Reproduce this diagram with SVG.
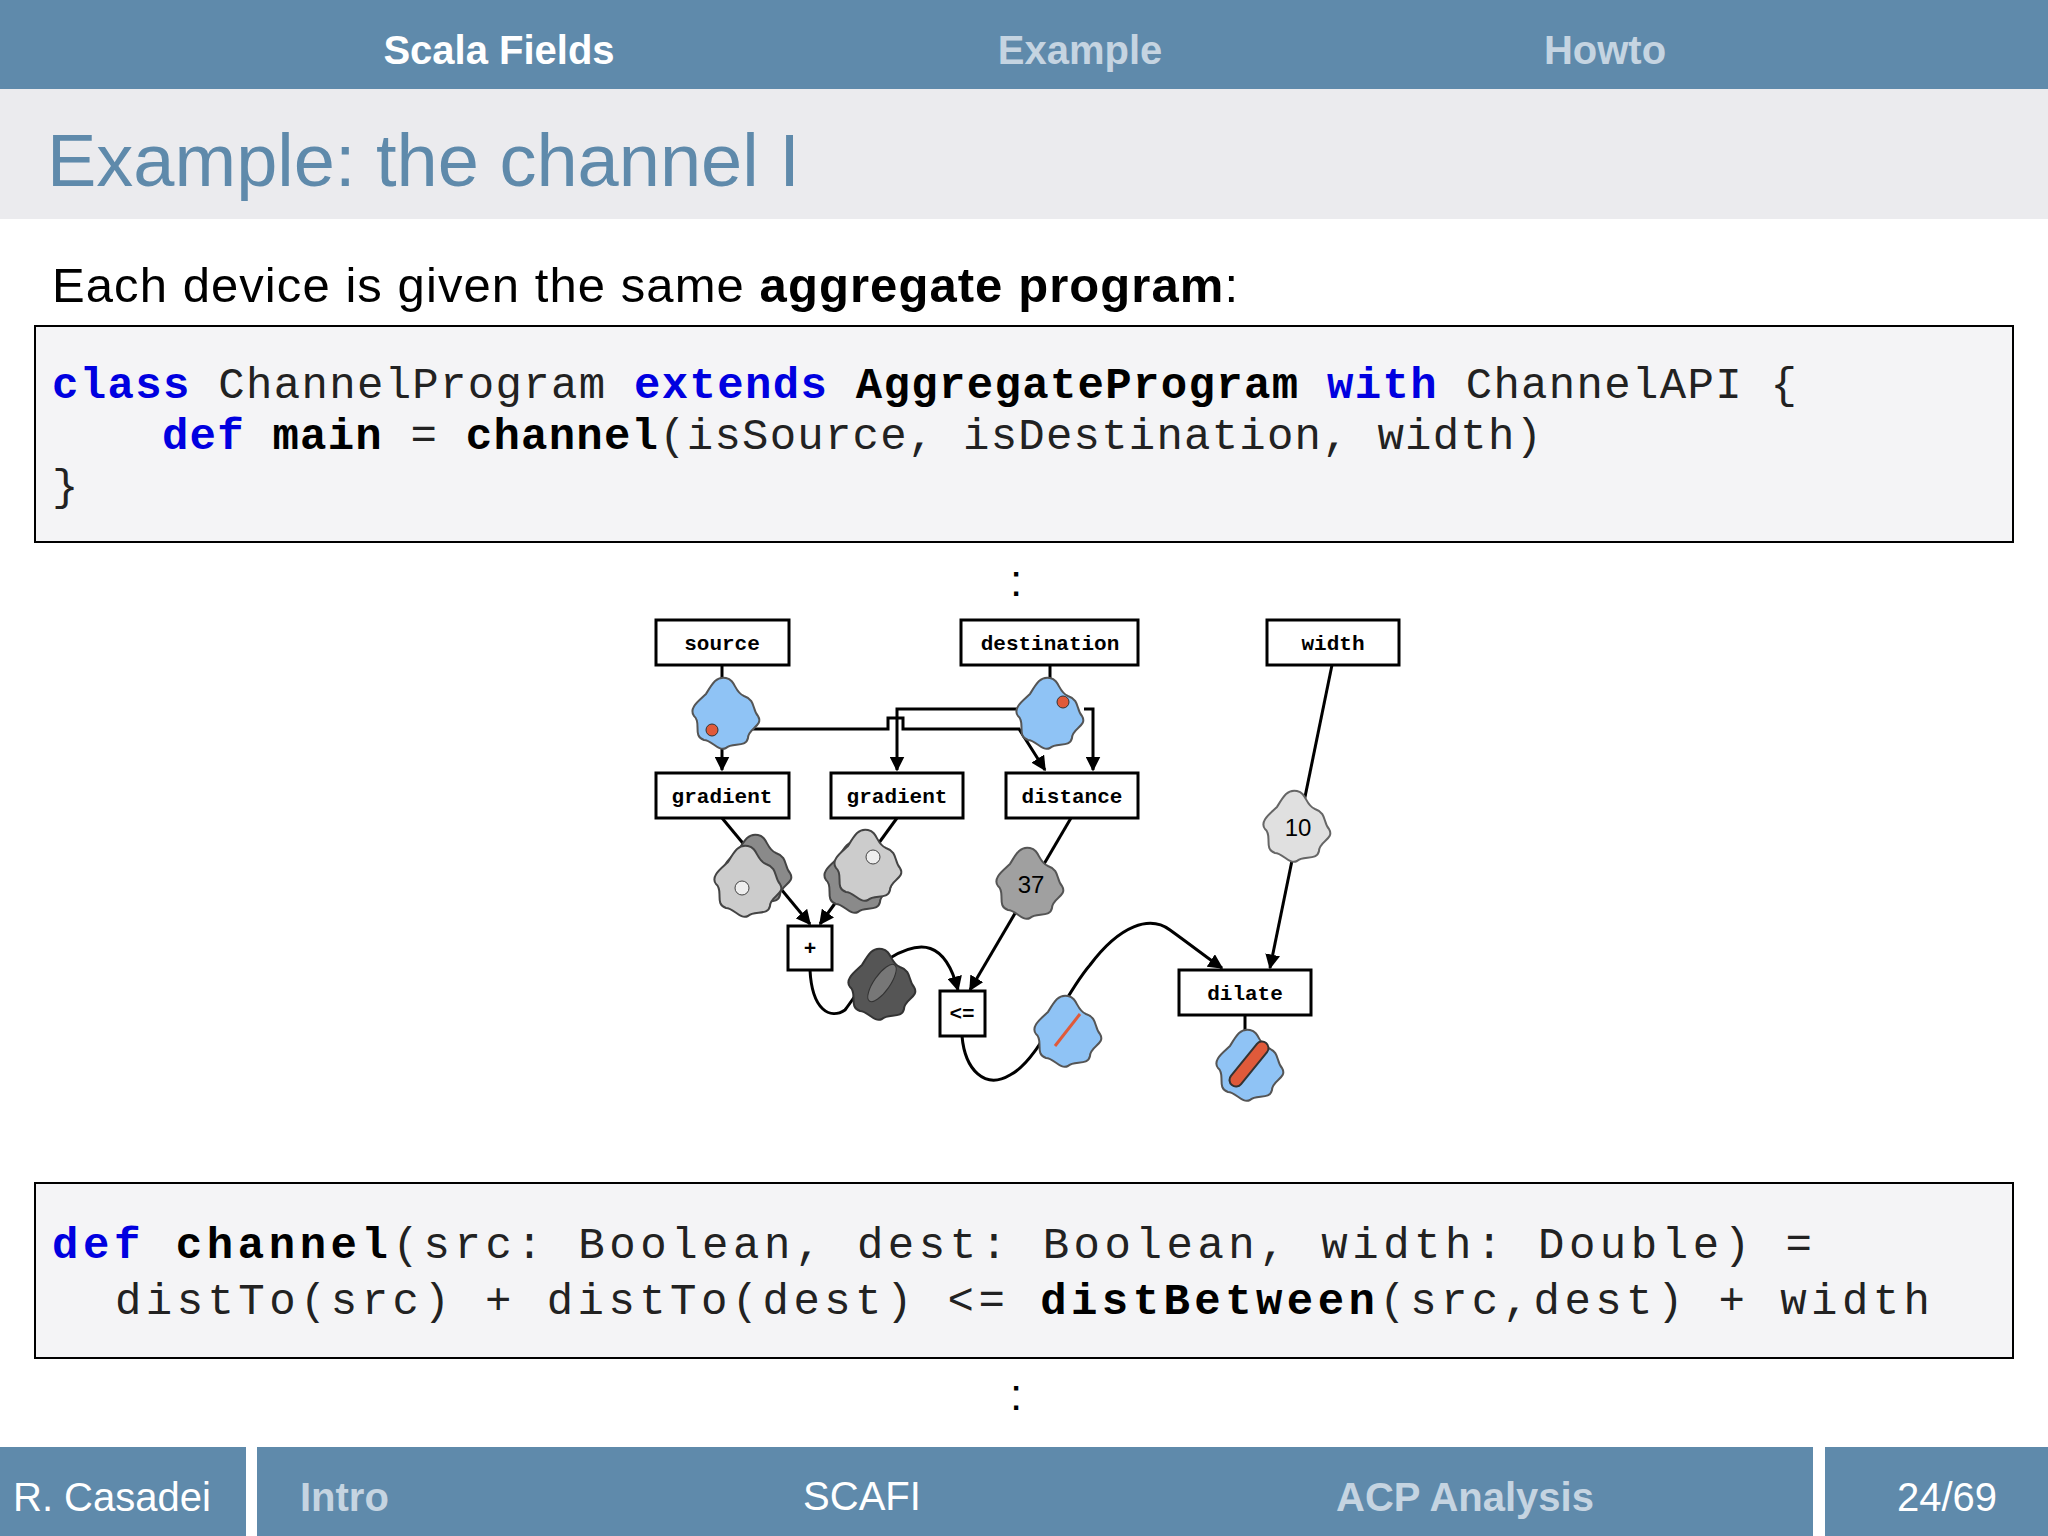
<svg xmlns="http://www.w3.org/2000/svg" width="2048" height="1536" viewBox="0 0 2048 1536">
<style>
.hd{font-family:"Liberation Sans",Arial,sans-serif;font-weight:bold;font-size:40px}
.code{font-family:"Liberation Mono","DejaVu Sans Mono",monospace;font-size:44px;fill:#222}
.kw{fill:#0000e0;font-weight:bold}
.b{font-weight:bold;fill:#000}
.box{fill:#fff;stroke:#000;stroke-width:3}
.lbl{font-family:"Liberation Mono","DejaVu Sans Mono",monospace;font-weight:bold;font-size:21px;text-anchor:middle}
.ln{fill:none;stroke:#000;stroke-width:3}
.ft{font-family:"Liberation Sans",Arial,sans-serif;font-size:40px}
</style>
<defs>
<path id="blob" d="M0,-34 C10,-32 8,-20 18,-16 C30,-12 26,-2 32,4 C38,14 22,16 22,26 C20,36 6,30 0,36 C-8,40 -14,28 -22,28 C-34,24 -24,10 -32,4 C-38,-4 -26,-12 -20,-18 C-14,-28 -10,-36 0,-34Z" stroke-width="2"/>
<marker id="ar" viewBox="0 0 10 10" refX="9" refY="5" markerWidth="5" markerHeight="5" orient="auto"><path d="M0,0 L10,5 L0,10 Z" fill="#000"/></marker>
</defs>
<rect width="2048" height="89" fill="#5f8aab"/>
<text class="hd" x="499" y="64" text-anchor="middle" fill="#fff">Scala Fields</text>
<text class="hd" x="1080" y="64" text-anchor="middle" fill="#c5d4e1">Example</text>
<text class="hd" x="1605" y="64" text-anchor="middle" fill="#c5d4e1">Howto</text>
<rect y="89" width="2048" height="130" fill="#ebebee"/>
<text x="47" y="186" font-family="Liberation Sans,Arial,sans-serif" font-size="74" fill="#5f8aab">Example: the channel I</text>
<text x="52" y="302" font-family="Liberation Sans,Arial,sans-serif" font-size="49" fill="#000" textLength="1186">Each device is given the same <tspan font-weight="bold">aggregate program</tspan>:</text>
<rect x="35" y="326" width="1978" height="216" fill="#f4f4f6" stroke="#000" stroke-width="2"/>
<text class="code" x="52" y="398" textLength="1745"><tspan class="kw">class</tspan> ChannelProgram <tspan class="kw">extends</tspan> <tspan class="b">AggregateProgram</tspan> <tspan class="kw">with</tspan> ChannelAPI {</text>
<text class="code" x="162" y="449" textLength="1380"><tspan class="kw">def</tspan> <tspan class="b">main</tspan> = <tspan class="b">channel</tspan>(isSource, isDestination, width)</text>
<text class="code" x="52" y="500">}</text>
<text x="1016" y="596" font-family="Liberation Sans,Arial,sans-serif" font-size="44" text-anchor="middle">:</text>

<g id="connectors">
<path class="ln" d="M722,665 V680"/>
<path class="ln" d="M722,740 V770" marker-end="url(#ar)"/>
<path class="ln" d="M744,729 H888 V718 H903 V729 H1019 L1045,770" marker-end="url(#ar)"/>
<path class="ln" d="M1019,709 H897 V770" marker-end="url(#ar)"/>
<path class="ln" d="M1050,665 V680"/>
<path class="ln" d="M1084,709 H1093 V770" marker-end="url(#ar)"/>
<path class="ln" d="M722,818 L810,924" marker-end="url(#ar)"/>
<path class="ln" d="M897,818 L820,924" marker-end="url(#ar)"/>
<path class="ln" d="M1071,818 L970,990" marker-end="url(#ar)"/>
<path class="ln" d="M1332,665 L1270,968" marker-end="url(#ar)"/>
<path class="ln" d="M810,970 C812,1010 830,1020 845,1010 C860,990 870,970 890,958 C920,940 945,940 958,990" marker-end="url(#ar)"/>
<path class="ln" d="M962,1036 C965,1070 985,1090 1010,1075 C1040,1060 1060,1000 1090,965 C1120,925 1150,915 1170,930 C1195,948 1210,960 1222,968" marker-end="url(#ar)"/>
<path class="ln" d="M1245,1015 V1035"/>
</g>

<g id="source"><rect class="box" x="656" y="620" width="133" height="45"/><text class="lbl" x="722" y="650">source</text></g>
<g id="destination"><rect class="box" x="961" y="620" width="177" height="45"/><text class="lbl" x="1050" y="650">destination</text></g>
<g id="width"><rect class="box" x="1267" y="620" width="132" height="45"/><text class="lbl" x="1333" y="650">width</text></g>
<g id="gradient1"><rect class="box" x="656" y="773" width="133" height="45"/><text class="lbl" x="722" y="803">gradient</text></g>
<g id="gradient2"><rect class="box" x="831" y="773" width="132" height="45"/><text class="lbl" x="897" y="803">gradient</text></g>
<g id="distance"><rect class="box" x="1006" y="773" width="132" height="45"/><text class="lbl" x="1072" y="803">distance</text></g>
<g id="plus"><rect class="box" x="788" y="926" width="44" height="44"/><text class="lbl" x="810" y="955">+</text></g>
<g id="le"><rect class="box" x="940" y="991" width="45" height="45"/><text class="lbl" x="962" y="1020">&lt;=</text></g>
<g id="dilate"><rect class="box" x="1179" y="970" width="132" height="45"/><text class="lbl" x="1245" y="1000">dilate</text></g>

<g id="blob-source"><use href="#blob" x="726" y="712" fill="#8fc3f5" stroke="#555"/><circle cx="712" cy="730" r="6" fill="#e05a3a" stroke="#333"/></g>
<g id="blob-dest"><use href="#blob" x="1050" y="712" fill="#8fc3f5" stroke="#555"/><circle cx="1063" cy="702" r="6" fill="#e05a3a" stroke="#333"/></g>
<g id="blob-grad1"><use href="#blob" x="758" y="869" fill="#8a8a8a" stroke="#444"/><use href="#blob" x="748" y="880" fill="#ccc" stroke="#444"/><circle cx="742" cy="888" r="7" fill="#eee" stroke="#444"/></g>
<g id="blob-grad2"><use href="#blob" x="858" y="876" fill="#8a8a8a" stroke="#444"/><use href="#blob" x="868" y="864" fill="#ccc" stroke="#444"/><circle cx="873" cy="857" r="7" fill="#eee" stroke="#444"/></g>
<g id="blob-37"><use href="#blob" x="1030" y="882" fill="#a0a0a0" stroke="#555"/><text x="1031" y="893" font-family="Liberation Sans,Arial,sans-serif" font-size="24" text-anchor="middle">37</text></g>
<g id="blob-10"><use href="#blob" x="1297" y="825" fill="#e0e0e0" stroke="#666"/><text x="1298" y="836" font-family="Liberation Sans,Arial,sans-serif" font-size="24" text-anchor="middle">10</text></g>
<g id="blob-sum"><use href="#blob" x="882" y="983" fill="#555" stroke="#333"/><ellipse cx="882" cy="983" rx="22" ry="8" transform="rotate(-55 882 983)" fill="#777" stroke="#333"/></g>
<g id="blob-le"><use href="#blob" x="1068" y="1030" fill="#8fc3f5" stroke="#555"/><line x1="1055" y1="1046" x2="1080" y2="1014" stroke="#e05a3a" stroke-width="3"/></g>
<g id="blob-dilate"><use href="#blob" x="1250" y="1064" fill="#8fc3f5" stroke="#555"/><line x1="1236" y1="1080" x2="1262" y2="1048" stroke="#333" stroke-width="15" stroke-linecap="round"/><line x1="1236" y1="1080" x2="1262" y2="1048" stroke="#e05a3a" stroke-width="11" stroke-linecap="round"/></g>

<rect x="35" y="1183" width="1978" height="175" fill="#f4f4f6" stroke="#000" stroke-width="2"/>
<text class="code" x="52" y="1258" font-size="50" textLength="1760"><tspan class="kw">def</tspan> <tspan class="b">channel</tspan>(src: Boolean, dest: Boolean, width: Double) =</text>
<text class="code" x="115" y="1314" font-size="50" textLength="1815">distTo(src) + distTo(dest) &lt;= <tspan class="b">distBetween</tspan>(src,dest) + width</text>
<text x="1016" y="1410" font-family="Liberation Sans,Arial,sans-serif" font-size="44" text-anchor="middle">:</text>

<rect y="1447" width="246" height="89" fill="#5f8aab"/>
<rect x="257" y="1447" width="1556" height="89" fill="#5f8aab"/>
<rect x="1825" y="1447" width="223" height="89" fill="#5f8aab"/>
<text class="ft" x="13" y="1511" fill="#fff">R. Casadei</text>
<text class="ft" x="300" y="1511" fill="#c5d4e1" font-weight="bold">Intro</text>
<text class="ft" x="862" y="1510" fill="#fff" font-size="31" text-anchor="middle">SCAFI</text>
<text class="ft" x="1465" y="1511" fill="#c5d4e1" font-weight="bold" text-anchor="middle">ACP Analysis</text>
<text class="ft" x="1947" y="1511" fill="#fff" text-anchor="middle">24/69</text>
</svg>
